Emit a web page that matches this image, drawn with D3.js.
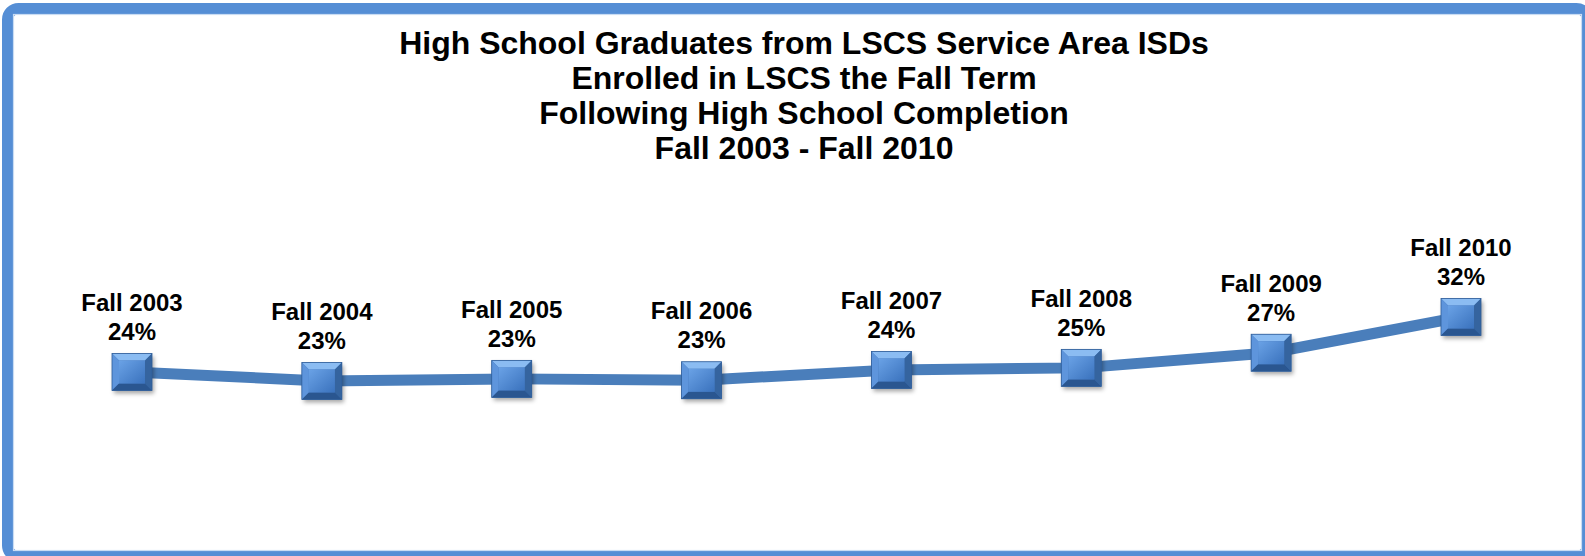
<!DOCTYPE html>
<html>
<head>
<meta charset="utf-8">
<script src="https://cdn.jsdelivr.net/npm/d3@7"></script>
<style>
  html, body { margin: 0; padding: 0; background: #ffffff; }
  svg { display: block; }
</style>
</head>
<body>
<svg id="chart" width="1585" height="556"></svg>
<script>
// ---- Data ----
const titleLines = [
  "High School Graduates from LSCS Service Area ISDs",
  "Enrolled in LSCS the Fall Term",
  "Following High School Completion",
  "Fall 2003 - Fall 2010"
];
const terms = ["Fall 2003", "Fall 2004", "Fall 2005", "Fall 2006", "Fall 2007", "Fall 2008", "Fall 2009", "Fall 2010"];
const rates = [24.0, 22.7, 23.0, 22.8, 24.3, 24.6, 26.8, 32.0];
const rateLabels = ["24%", "23%", "23%", "23%", "24%", "25%", "27%", "32%"];

// ---- Layout ----
const svg = d3.select("#chart");
const FONT = "Liberation Sans, Arial, sans-serif";

const defs = svg.append("defs");
const sh = defs.append("filter").attr("id", "shadow")
  .attr("x", "-30%").attr("y", "-30%").attr("width", "170%").attr("height", "170%");
sh.append("feDropShadow").attr("dx", 2).attr("dy", 3).attr("stdDeviation", 2.2)
  .attr("flood-color", "#000").attr("flood-opacity", 0.35);

const face = defs.append("linearGradient").attr("id", "face")
  .attr("x1", "0").attr("y1", "0").attr("x2", "1").attr("y2", "1");
face.append("stop").attr("offset", "0%").attr("stop-color", "#6aa2e6");
face.append("stop").attr("offset", "100%").attr("stop-color", "#3a72bd");

// frame
svg.append("rect")
  .attr("x", 7.5).attr("y", 8.5)
  .attr("width", 1580).attr("height", 548)
  .attr("rx", 11).attr("ry", 11)
  .attr("fill", "#ffffff")
  .attr("stroke", "#558ed5").attr("stroke-width", 11);
svg.append("rect")
  .attr("x", 13.5).attr("y", 14.5)
  .attr("width", 1568).attr("height", 536)
  .attr("fill", "none")
  .attr("stroke", "#c9dcf3").attr("stroke-width", 1.2);

// title
const titleY = [54, 89, 124, 159];
svg.selectAll("text.title").data(titleLines).join("text")
  .attr("class", "title")
  .attr("x", 804)
  .attr("y", (d, i) => titleY[i])
  .attr("text-anchor", "middle")
  .attr("font-family", FONT)
  .attr("font-weight", "bold")
  .attr("font-size", 32)
  .attr("fill", "#000")
  .text(d => d);

// scales
const x = d3.scalePoint().domain(terms).range([132, 1461]);
const y = d3.scaleLinear().domain([0, 40]).range([537, 262]);

// line
const line = d3.line().x((d, i) => x(terms[i])).y(d => y(d));
svg.append("path")
  .datum(rates)
  .attr("d", line)
  .attr("fill", "none")
  .attr("stroke", "#4a7ebb")
  .attr("stroke-width", 11)
  .attr("stroke-linejoin", "round");

// markers (beveled squares)
const mw = 40, mh = 37, b = 7;
const pts = rates.map((v, i) => ({ term: terms[i], v, label: rateLabels[i], cx: x(terms[i]), cy: y(v) }));
const mg = svg.selectAll("g.marker").data(pts).join("g")
  .attr("class", "marker")
  .attr("transform", d => `translate(${d.cx - mw / 2},${d.cy - mh / 2})`);

mg.append("rect").attr("width", mw).attr("height", mh)
  .attr("fill", "#3f73b8").attr("filter", "url(#shadow)");
const poly = (p) => p.map(q => q.join(",")).join(" ");
mg.append("polygon").attr("points", poly([[0,0],[mw,0],[mw-b,b],[b,b]])).attr("fill", "#8bbcf2");
mg.append("polygon").attr("points", poly([[0,0],[b,b],[b,mh-b],[0,mh]])).attr("fill", "#5e95dc");
mg.append("polygon").attr("points", poly([[mw,0],[mw,mh],[mw-b,mh-b],[mw-b,b]])).attr("fill", "#35649f");
mg.append("polygon").attr("points", poly([[0,mh],[b,mh-b],[mw-b,mh-b],[mw,mh]])).attr("fill", "#2a5690");
mg.append("rect").attr("x", b).attr("y", b).attr("width", mw - 2 * b).attr("height", mh - 2 * b)
  .attr("fill", "url(#face)");
mg.append("rect").attr("width", mw).attr("height", mh)
  .attr("fill", "none").attr("stroke", "#2e5d98").attr("stroke-width", 0.8);

// labels
const lg = svg.selectAll("g.lab").data(pts).join("g").attr("class", "lab");
lg.append("text")
  .attr("x", d => d.cx).attr("y", d => d.cy - 61)
  .attr("text-anchor", "middle")
  .attr("font-family", FONT)
  .attr("font-weight", "bold").attr("font-size", 24)
  .attr("fill", "#000")
  .text(d => d.term);
lg.append("text")
  .attr("x", d => d.cx).attr("y", d => d.cy - 32)
  .attr("text-anchor", "middle")
  .attr("font-family", FONT)
  .attr("font-weight", "bold").attr("font-size", 24)
  .attr("fill", "#000")
  .text(d => d.label);
</script>
</body>
</html>
